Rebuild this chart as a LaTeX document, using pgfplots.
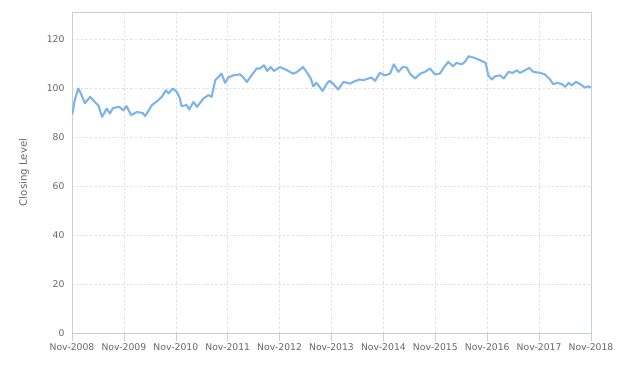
\documentclass[border=0pt]{standalone}
\usepackage{pgfplots}
\pgfplotsset{compat=1.18}
\usepackage{fontspec}
\setmainfont{DejaVu Sans}
\definecolor{linec}{HTML}{7CB5EC}
\definecolor{gridc}{HTML}{E2E2E2}
\definecolor{axc}{HTML}{C8CED8}
\definecolor{txt}{HTML}{666666}
\begin{document}
\begin{tikzpicture}
\useasboundingbox (-72bp,-33bp) rectangle (559bp,333bp);
\begin{axis}[
  at={(0,0)}, anchor=south west,
  scale only axis, width=519bp, height=321bp,
  xmin=0, xmax=10, ymin=0, ymax=131.3,
  xtick={0,...,10},
  xticklabels={Nov-2008,Nov-2009,Nov-2010,Nov-2011,Nov-2012,Nov-2013,Nov-2014,Nov-2015,Nov-2016,Nov-2017,Nov-2018},
  ytick={0,20,...,120},
  xtick pos=bottom, ytick pos=left,
  grid=major,
  grid style={gridc, dash pattern=on 2.5pt off 2pt, line width=0.6pt},
  axis line style={axc, line width=0.8pt},
  xtick style={axc, line width=0.6pt},
  ytick style={draw=none},
  xtick align=outside,
  major tick length=8bp,
  tick label style={font=\fontsize{9.3}{11}\selectfont, text=txt},
  /pgf/number format/assume math mode=true,
  xticklabel style={yshift=1bp},
  yticklabel style={xshift=-4bp},
  ylabel={Closing Level},
  ylabel style={font=\fontsize{10.2}{12}\selectfont, text=txt, at={(axis description cs:-0.0925,0.5)}, anchor=center},
]
\addplot[linec, line width=2.1pt, line join=round] coordinates {
(0.00,89.5)(0.01,90)(0.05,95)(0.12,100)(0.17,98)(0.25,94)(0.35,96.6)(0.44,94.5)(0.51,93)(0.58,88.4)
(0.67,91.8)(0.73,89.8)(0.79,92)(0.91,92.5)(0.99,91.1)(1.05,92.8)(1.14,89.1)(1.25,90.4)
(1.36,90)(1.41,88.7)(1.54,93.2)(1.66,95.2)(1.73,96.6)(1.81,99.3)(1.86,98)(1.94,100)
(2.02,98.6)(2.08,95.9)(2.11,92.8)(2.21,93.2)(2.26,91.4)(2.34,94.5)(2.41,92.5)(2.53,95.9)
(2.63,97.3)(2.69,96.6)(2.76,103.4)(2.82,104.7)(2.88,106.1)(2.95,102.3)(3.01,104.5)
(3.11,105.4)(3.24,105.8)(3.30,104.5)(3.37,102.7)(3.46,105.4)(3.56,108.2)(3.62,108.2)
(3.70,109.5)(3.76,107.2)(3.83,108.8)(3.89,107.2)(4.01,108.8)(4.14,107.5)(4.26,106.1)
(4.34,106.8)(4.45,108.8)(4.52,106.8)(4.60,104.1)(4.65,100.9)(4.71,102.3)(4.83,99)
(4.91,102)(4.96,103.1)(5.03,102)(5.13,99.6)(5.23,102.7)(5.36,102)(5.42,102.7)(5.54,103.7)
(5.61,103.4)(5.77,104.5)(5.84,103.1)(5.93,106.4)(6.03,105.4)(6.13,106.1)(6.20,109.9)
(6.29,106.8)(6.37,108.8)(6.45,108.6)(6.51,106.1)(6.61,104.1)(6.71,106.1)(6.80,106.8)
(6.90,108.2)(6.99,105.8)(7.09,106.1)(7.15,108.2)(7.25,110.9)(7.34,109.1)(7.41,110.5)
(7.51,109.9)(7.57,110.9)(7.64,113.2)(7.73,112.7)(7.83,111.9)(7.89,111.3)(7.97,110.5)
(8.02,105.4)(8.09,103.7)(8.15,105)(8.25,105.4)(8.32,104.1)(8.41,106.8)(8.49,106.4)
(8.57,107.5)(8.63,106.4)(8.73,107.5)(8.81,108.4)(8.89,106.8)(9.02,106.4)(9.11,105.8)
(9.21,103.7)(9.27,101.8)(9.35,102.3)(9.44,101.8)(9.50,100.7)(9.57,102.3)(9.63,101.3)
(9.71,102.7)(9.79,101.8)(9.88,100.4)(9.95,100.9)(10,100.4)
};
\end{axis}
\end{tikzpicture}
\end{document}
